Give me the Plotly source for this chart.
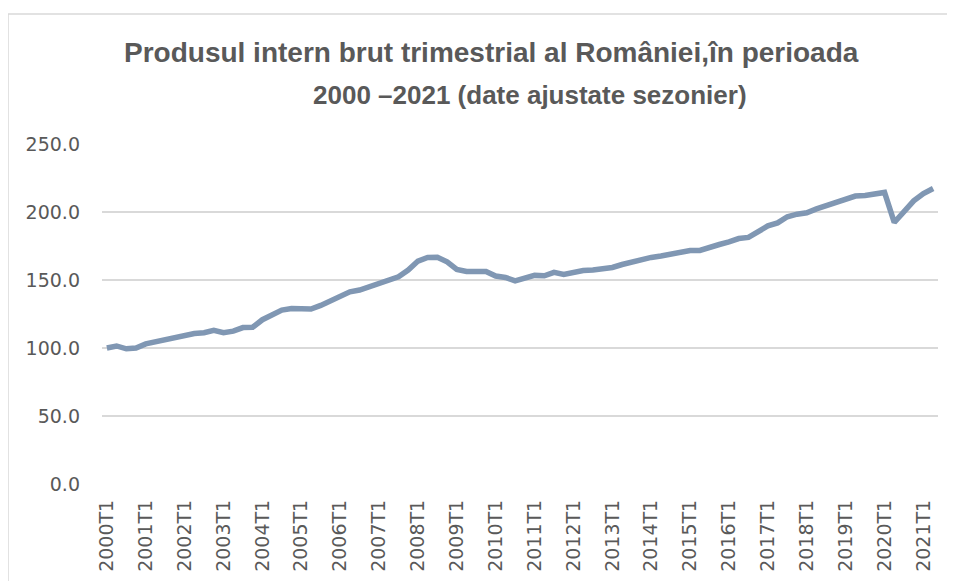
import plotly.graph_objects as go

quarters = [f"{y}T{q}" for y in range(2000, 2022) for q in range(1, 5)][:86]

gdp_index = [
    100.0, 101.5, 99.4, 100.0, 103.0, 104.6, 106.3, 107.3, 109.5, 110.7,
    111.2, 113.0, 111.2, 112.4, 115.0, 115.3, 120.8, 124.9, 127.9, 129.1,
    129.1, 128.6, 131.3, 134.7, 137.2, 141.3, 142.6, 145.0, 147.9, 150.4,
    152.4, 157.3, 163.9, 166.6, 166.8, 163.4, 157.8, 156.3, 156.3, 156.3,
    152.9, 151.9, 149.4, 151.4, 153.4, 153.1, 155.6, 154.1, 155.8, 157.0,
    157.3, 157.8, 159.2, 161.4, 163.4, 165.4, 166.6, 167.6, 169.3, 170.5,
    171.7, 171.7, 174.2, 176.1, 178.1, 180.5, 181.3, 185.4, 189.8, 192.0,
    196.5, 198.4, 199.4, 202.3, 204.8, 206.5, 209.2, 211.7, 212.2, 213.6,
    214.4, 192.3, 200.1, 208.2, 213.6, 217.3,
]

tick_labels = [f"{y}T1" for y in range(2000, 2022)]
y_ticks = [0, 50, 100, 150, 200, 250]
y_tick_text = ["0.0", "50.0", "100.0", "150.0", "200.0", "250.0"]

title_lines = ["Produsul intern brut trimestrial al României,în perioada",
               "2000 –2021 (date ajustate sezonier)"]

# page has an 8px body margin, so figure coords = page coords - 8
OFF = 8
W, H = 955 - OFF, 581 - OFF
ML, MT = 102 - OFF, 144 - OFF
MR, MB = 17, 97
PW, PH = W - ML - MR, H - MT - MB

fig = go.Figure()
fig.add_trace(go.Scatter(
    x=quarters, y=gdp_index, mode="lines",
    line=dict(color="#8097B3", width=5.5, shape="linear"),
    hoverinfo="x+y",
))

fig.update_layout(
    width=W, height=H,
    paper_bgcolor="white", plot_bgcolor="white",
    margin=dict(l=ML, r=MR, t=MT, b=MB, pad=0),
    showlegend=False,
    font=dict(family="DejaVu Sans, Liberation Sans, Arial", color="#595959"),
)

for line, (xpx, ypx, fs) in zip(title_lines, [(491, 52, 28), (530, 95, 26)]):
    fig.add_annotation(
        text=f"<b>{line}</b>", xref="paper", yref="paper",
        x=(xpx - OFF - ML) / PW, y=(H - MB - (ypx - OFF)) / PH,
        xanchor="center", yanchor="middle", showarrow=False,
        font=dict(family="Liberation Sans, Arial", size=fs, color="#595959"),
    )

fig.update_xaxes(
    type="category", categoryorder="array", categoryarray=quarters,
    range=[-0.5, len(quarters) - 0.5],
    tickmode="array", tickvals=tick_labels, ticktext=tick_labels,
    tickangle=-90, tickfont=dict(family="DejaVu Sans", size=19, color="#595959"),
    showgrid=False, showline=False, zeroline=False, ticks="",
    ticklabelstandoff=11, automargin=False,
)
fig.update_yaxes(
    range=[0, 250], tickmode="array", tickvals=y_ticks, ticktext=y_tick_text,
    tickfont=dict(family="DejaVu Sans", size=19, color="#595959"),
    showgrid=True, gridcolor="#D9D9D9", gridwidth=1.5,
    zeroline=False, showline=False, ticks="", ticklabelstandoff=21,
    automargin=False,
)

# chart area border (left and top edges visible)
fig.add_shape(type="rect", xref="paper", yref="paper",
              x0=(8 - OFF - ML) / PW, x1=(W + 20 - ML) / PW,
              y0=-(MB + 20) / PH, y1=(H - MB - (14 - OFF)) / PH,
              line=dict(color="#D9D9D9", width=1.5), fillcolor="rgba(0,0,0,0)", layer="below")

fig.write_html("out.html")
